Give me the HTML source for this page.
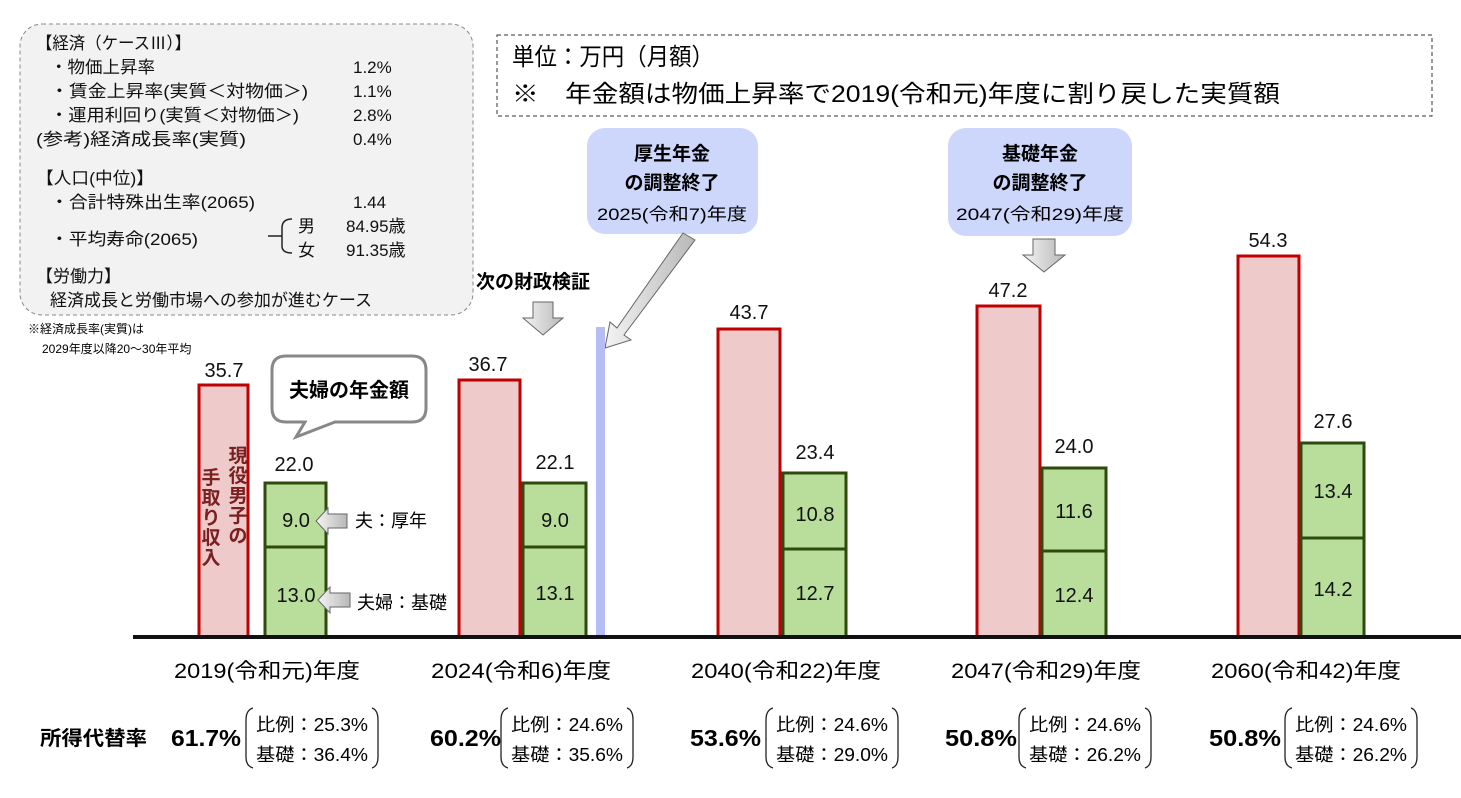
<!DOCTYPE html>
<html><head><meta charset="utf-8"><style>
html,body{margin:0;padding:0;background:#fff;}
svg{display:block;font-family:"Liberation Sans","Noto Sans CJK JP",sans-serif;}
</style></head><body>
<svg width="1461" height="798" viewBox="0 0 1461 798" xmlns="http://www.w3.org/2000/svg">
<defs>
<linearGradient id="ga" x1="0" x2="1"><stop offset="0" stop-color="#f4f4f4"/><stop offset="1" stop-color="#b8b8b8"/></linearGradient>
</defs>
<!-- top-left box -->
<rect x="20" y="24" width="453" height="291" rx="22" fill="#f2f2f2" stroke="#888" stroke-dasharray="4,3"/>
<g font-size="17" fill="#111">
<text x="36" y="49" textLength="155" lengthAdjust="spacingAndGlyphs">【経済（ケースⅢ）】</text>
<text x="50" y="73" textLength="105" lengthAdjust="spacingAndGlyphs">・物価上昇率</text><text x="353" y="73">1.2%</text>
<text x="50" y="97" textLength="258" lengthAdjust="spacingAndGlyphs">・賃金上昇率(実質＜対物価＞)</text><text x="353" y="97">1.1%</text>
<text x="50" y="121" textLength="249" lengthAdjust="spacingAndGlyphs">・運用利回り(実質＜対物価＞)</text><text x="353" y="121">2.8%</text>
<text x="36" y="145" textLength="210" lengthAdjust="spacingAndGlyphs">(参考)経済成長率(実質)</text><text x="353" y="145">0.4%</text>
<text x="36" y="184" textLength="118" lengthAdjust="spacingAndGlyphs">【人口(中位)】</text>
<text x="50" y="208" textLength="205" lengthAdjust="spacingAndGlyphs">・合計特殊出生率(2065)</text><text x="353" y="208">1.44</text>
<text x="50" y="245" textLength="148" lengthAdjust="spacingAndGlyphs">・平均寿命(2065)</text>
<text x="298" y="232">男</text><text x="346" y="232">84.95歳</text>
<text x="298" y="256">女</text><text x="346" y="256">91.35歳</text>
<text x="36" y="282">【労働力】</text>
<text x="50" y="306" textLength="322" lengthAdjust="spacingAndGlyphs">経済成長と労働市場への参加が進むケース</text>
</g>
<path d="M292 219 Q282 219 282 228 L282 236 L268 236 M282 236 L282 246 Q282 253 292 253" fill="none" stroke="#222" stroke-width="1.5"/>
<text x="28" y="333" font-size="12">※経済成長率(実質)は</text>
<text x="42" y="353" font-size="12">2029年度以降20～30年平均</text>
<!-- top-right box -->
<rect x="497" y="35" width="935" height="81" fill="#fff" stroke="#333" stroke-dasharray="4,3"/>
<text x="512" y="65" font-size="24" textLength="202" lengthAdjust="spacingAndGlyphs">単位：万円（月額）</text>
<text x="512" y="102" font-size="24" textLength="768" lengthAdjust="spacingAndGlyphs">※　年金額は物価上昇率で2019(令和元)年度に割り戻した実質額</text>
<!-- callouts -->
<rect x="587" y="128" width="171" height="106" rx="18" fill="#cdd6fb"/>
<text x="672" y="160" font-size="19" font-weight="bold" text-anchor="middle">厚生年金</text>
<text x="672" y="189" font-size="19" font-weight="bold" text-anchor="middle">の調整終了</text>
<text x="672" y="220" font-size="17" text-anchor="middle" textLength="150" lengthAdjust="spacingAndGlyphs">2025(令和7)年度</text>
<rect x="948" y="128" width="184" height="108" rx="18" fill="#cdd6fb"/>
<text x="1040" y="160" font-size="19" font-weight="bold" text-anchor="middle">基礎年金</text>
<text x="1040" y="189" font-size="19" font-weight="bold" text-anchor="middle">の調整終了</text>
<text x="1040" y="220" font-size="17" text-anchor="middle" textLength="168" lengthAdjust="spacingAndGlyphs">2047(令和29)年度</text>
<!-- arrows -->
<path d="M1033 239 L1055 239 L1055 255 L1065 255 L1044 272 L1023 255 L1033 255 Z" fill="url(#ga)" stroke="#666"/>
<path d="M533 302 L553 302 L553 318 L563 318 L543 335 L523 318 L533 318 Z" fill="url(#ga)" stroke="#666"/>
<path d="M683 233 L695 240 L624 335 L631 340 L605 348 L610 322 L617 328 Z" fill="url(#ga)" stroke="#666"/>
<text x="476" y="288" font-size="19" font-weight="bold">次の財政検証</text>
<!-- blue line -->
<rect x="596" y="327" width="9" height="310" fill="#b4bef5"/>
<!-- speech bubble -->
<path d="M286 356 L412 356 Q426 356 426 370 L426 408 Q426 422 412 422 L335 422 L296 437 L305 422 L286 422 Q272 422 272 408 L272 370 Q272 356 286 356 Z" fill="#fff" stroke="#888" stroke-width="3"/>
<text x="349" y="397" font-size="20" font-weight="bold" text-anchor="middle">夫婦の年金額</text>
<!-- bars -->
<g stroke-width="3">
<rect x="199" y="385" width="49" height="252" fill="#eecaca" stroke="#c00000"/>
<rect x="265" y="483" width="61" height="154" fill="#b9dd9b" stroke="#2e4a0e"/><line x1="265" y1="547" x2="326" y2="547" stroke="#2e4a0e"/>
<rect x="459" y="380" width="61" height="257" fill="#eecaca" stroke="#c00000"/>
<rect x="523" y="483" width="63" height="154" fill="#b9dd9b" stroke="#2e4a0e"/><line x1="523" y1="547" x2="586" y2="547" stroke="#2e4a0e"/>
<rect x="718" y="329" width="62" height="308" fill="#eecaca" stroke="#c00000"/>
<rect x="783" y="473" width="63" height="164" fill="#b9dd9b" stroke="#2e4a0e"/><line x1="783" y1="549" x2="846" y2="549" stroke="#2e4a0e"/>
<rect x="977" y="306" width="63" height="331" fill="#eecaca" stroke="#c00000"/>
<rect x="1042" y="468" width="64" height="169" fill="#b9dd9b" stroke="#2e4a0e"/><line x1="1042" y1="551" x2="1106" y2="551" stroke="#2e4a0e"/>
<rect x="1238" y="256" width="61" height="381" fill="#eecaca" stroke="#c00000"/>
<rect x="1301" y="443" width="63" height="194" fill="#b9dd9b" stroke="#2e4a0e"/><line x1="1301" y1="538" x2="1364" y2="538" stroke="#2e4a0e"/>
</g>
<!-- vertical text in first bar -->
<g font-size="19" font-weight="bold" fill="#7a2020" text-anchor="middle">
<text x="238" y="462">現</text><text x="238" y="482">役</text><text x="238" y="502">男</text><text x="238" y="522">子</text><text x="238" y="542">の</text>
<text x="211" y="484">手</text><text x="211" y="504">取</text><text x="211" y="524">り</text><text x="211" y="544">収</text><text x="211" y="564">入</text>
</g>
<!-- value labels -->
<g font-size="20" text-anchor="middle" fill="#111">
<text x="224" y="377">35.7</text><text x="294" y="471">22.0</text><text x="296" y="527">9.0</text><text x="296" y="602">13.0</text>
<text x="488" y="371">36.7</text><text x="555" y="469">22.1</text><text x="555" y="527">9.0</text><text x="555" y="600">13.1</text>
<text x="749" y="319">43.7</text><text x="815" y="459">23.4</text><text x="815" y="521">10.8</text><text x="815" y="600">12.7</text>
<text x="1008" y="297">47.2</text><text x="1074" y="453">24.0</text><text x="1074" y="518">11.6</text><text x="1074" y="602">12.4</text>
<text x="1268" y="247">54.3</text><text x="1333" y="428">27.6</text><text x="1333" y="498">13.4</text><text x="1333" y="596">14.2</text>
</g>
<!-- side arrows -->
<path d="M316 521 L328 508 L328 514 L347 514 L347 528 L328 528 L328 534 Z" fill="url(#ga)" stroke="#666"/>
<path d="M318 600 L330 587 L330 593 L350 593 L350 607 L330 607 L330 613 Z" fill="url(#ga)" stroke="#666"/>
<text x="355" y="527" font-size="18">夫：厚年</text>
<text x="357" y="609" font-size="18">夫婦：基礎</text>
<!-- baseline -->
<rect x="133" y="635" width="1328" height="4" fill="#111"/>
<!-- x labels -->
<g font-size="21" text-anchor="middle">
<text x="267" y="678" textLength="186" lengthAdjust="spacingAndGlyphs">2019(令和元)年度</text>
<text x="521" y="678" textLength="180" lengthAdjust="spacingAndGlyphs">2024(令和6)年度</text>
<text x="786" y="678" textLength="190" lengthAdjust="spacingAndGlyphs">2040(令和22)年度</text>
<text x="1046" y="678" textLength="190" lengthAdjust="spacingAndGlyphs">2047(令和29)年度</text>
<text x="1306" y="678" textLength="190" lengthAdjust="spacingAndGlyphs">2060(令和42)年度</text>
</g>
<!-- rates -->
<text x="40" y="745" font-size="20" font-weight="bold" textLength="107" lengthAdjust="spacingAndGlyphs">所得代替率</text>
<g font-size="23" font-weight="bold">
<text x="171" y="746" textLength="70" lengthAdjust="spacingAndGlyphs">61.7%</text><text x="430" y="746" textLength="71" lengthAdjust="spacingAndGlyphs">60.2%</text><text x="690" y="746" textLength="71" lengthAdjust="spacingAndGlyphs">53.6%</text><text x="945" y="746" textLength="72" lengthAdjust="spacingAndGlyphs">50.8%</text><text x="1209" y="746" textLength="72" lengthAdjust="spacingAndGlyphs">50.8%</text>
</g>
<g fill="none" stroke="#222" stroke-width="1.3">
<path d="M253 708 Q246 710 246 720 L246 757 Q246 766 253 768 M372 708 Q378 710 378 720 L378 757 Q378 766 372 768"/>
<path d="M508 708 Q501 710 501 720 L501 757 Q501 766 508 768 M627 708 Q633 710 633 720 L633 757 Q633 766 627 768"/>
<path d="M773 708 Q766 710 766 720 L766 757 Q766 766 773 768 M892 708 Q898 710 898 720 L898 757 Q898 766 892 768"/>
<path d="M1026 708 Q1019 710 1019 720 L1019 757 Q1019 766 1026 768 M1145 708 Q1151 710 1151 720 L1151 757 Q1151 766 1145 768"/>
<path d="M1292 708 Q1285 710 1285 720 L1285 757 Q1285 766 1292 768 M1411 708 Q1417 710 1417 720 L1417 757 Q1417 766 1411 768"/>
</g>
<g font-size="18">
<text x="256" y="731" textLength="112" lengthAdjust="spacingAndGlyphs">比例：25.3%</text><text x="256" y="761" textLength="112" lengthAdjust="spacingAndGlyphs">基礎：36.4%</text>
<text x="511" y="731" textLength="112" lengthAdjust="spacingAndGlyphs">比例：24.6%</text><text x="511" y="761" textLength="112" lengthAdjust="spacingAndGlyphs">基礎：35.6%</text>
<text x="776" y="731" textLength="112" lengthAdjust="spacingAndGlyphs">比例：24.6%</text><text x="776" y="761" textLength="112" lengthAdjust="spacingAndGlyphs">基礎：29.0%</text>
<text x="1029" y="731" textLength="112" lengthAdjust="spacingAndGlyphs">比例：24.6%</text><text x="1029" y="761" textLength="112" lengthAdjust="spacingAndGlyphs">基礎：26.2%</text>
<text x="1295" y="731" textLength="112" lengthAdjust="spacingAndGlyphs">比例：24.6%</text><text x="1295" y="761" textLength="112" lengthAdjust="spacingAndGlyphs">基礎：26.2%</text>
</g>
</svg>
</body></html>
